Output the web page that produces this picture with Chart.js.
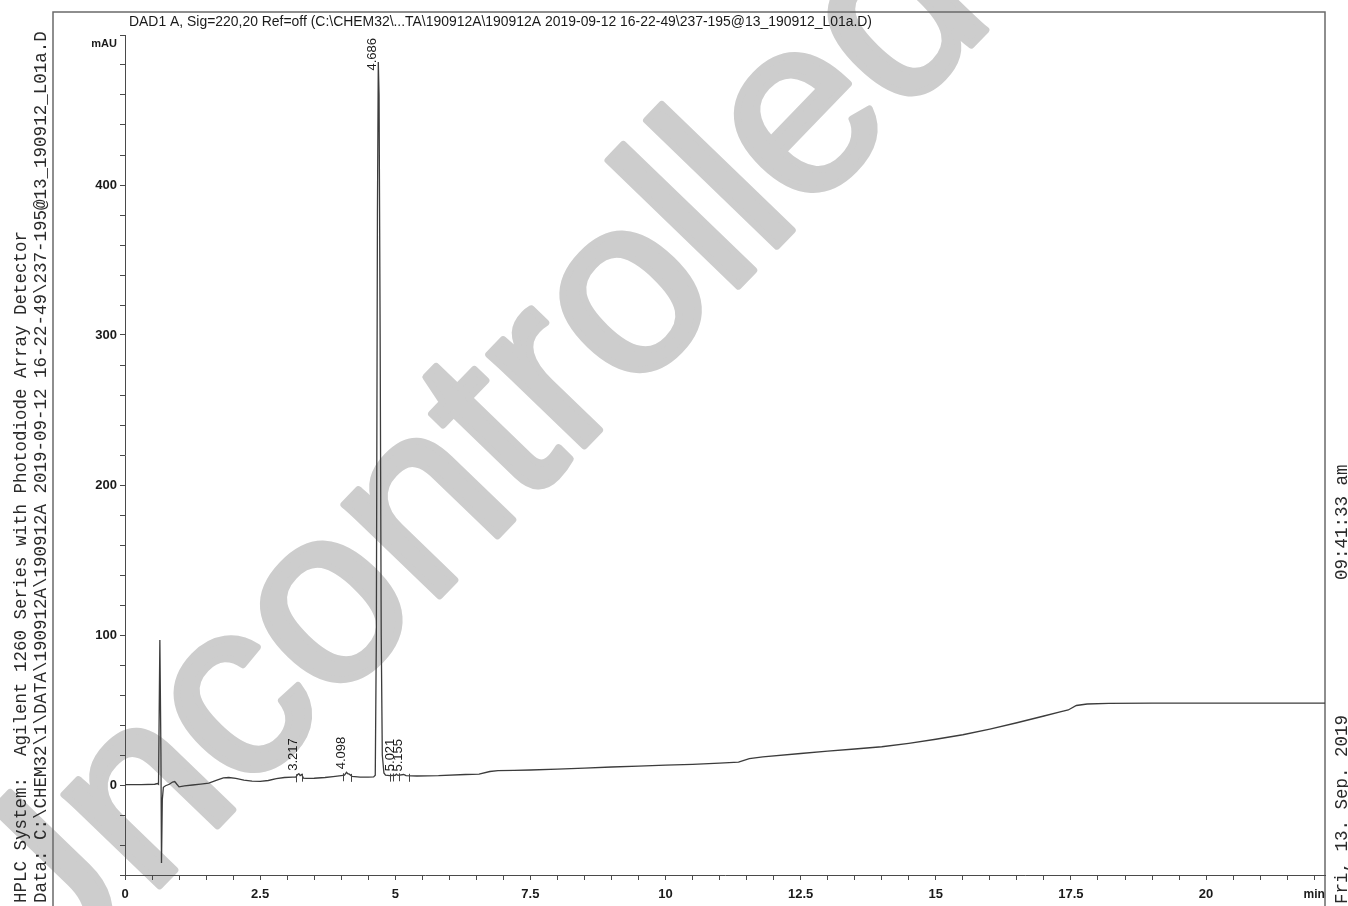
<!DOCTYPE html>
<html>
<head>
<meta charset="utf-8">
<title>DAD1 A, Sig=220,20 Ref=off</title>
<script src="https://cdn.jsdelivr.net/npm/chart.js@4/dist/chart.umd.min.js"></script>
<style>
  html, body { margin: 0; padding: 0; background: #ffffff; }
  canvas { display: block; }
</style>
</head>
<body>
<canvas id="chrom" width="1348" height="906"></canvas>
<script>
// Retention time (min) and detector signal (mAU) of the DAD1 A trace
const times = [
  0.00, 0.30, 0.55, 0.60, 0.62, 0.645, 0.665, 0.675, 0.69, 0.71, 0.75, 0.82, 0.88, 0.92, 0.96,
  1.00, 1.10, 1.25, 1.40, 1.55, 1.70, 1.82, 1.92, 2.05, 2.20, 2.35, 2.50, 2.65, 2.80, 2.95,
  3.10, 3.16, 3.19, 3.217, 3.24, 3.27, 3.30, 3.35, 3.50, 3.70, 3.85, 4.00, 4.06, 4.098, 4.12,
  4.15, 4.20, 4.35, 4.50, 4.60, 4.63, 4.65, 4.67, 4.686, 4.70, 4.72, 4.74, 4.76, 4.79,
  4.82, 4.90, 5.00, 5.021, 5.05, 5.155, 5.20, 5.40, 5.80, 6.30, 6.55, 6.75, 6.90, 7.20, 7.50,
  8.00, 8.50, 9.00, 9.50, 10.00, 10.50, 11.00, 11.35, 11.55, 11.80, 12.50, 13.00, 13.50, 14.00, 14.50,
  15.00, 15.50, 16.00, 16.50, 17.00, 17.30, 17.45, 17.60, 17.80, 18.20, 19.00, 20.00, 21.00, 22.20
];
const signal = [
  0.3, 0.3, 0.5, 1.0, 0.5, 96.7, 20.0, -52.0, -10.0, -1.5, -0.5, 0.5, 2.0, 2.3, 0.5,
  -1.2, -0.6, 0.0, 0.6, 1.3, 3.2, 4.7, 5.0, 4.4, 3.3, 2.6, 2.4, 3.0, 4.2, 5.0,
  5.3, 5.3, 6.8, 7.5, 6.3, 7.0, 4.6, 4.4, 4.5, 5.0, 5.6, 6.3, 6.6, 8.5, 7.5,
  7.2, 5.8, 5.3, 5.3, 5.4, 6.5, 100.0, 380.0, 482.0, 460.0, 300.0, 100.0, 20.0, 8.0,
  6.5, 6.2, 6.5, 7.2, 6.4, 7.0, 6.2, 6.0, 6.2, 7.0, 7.2, 9.0, 9.6, 9.7, 10.0,
  10.6, 11.3, 12.0, 12.6, 13.2, 13.8, 14.6, 15.3, 17.6, 18.8, 21.0, 22.6, 24.0, 25.5, 27.8,
  30.5, 33.5, 37.3, 41.5, 46.0, 48.7, 50.0, 53.0, 54.0, 54.4, 54.6, 54.6, 54.6, 54.6
];

// Integrated peaks: retention times printed above the trace
const peakTimes = [3.217, 4.098, 4.686, 5.021, 5.155];
const peakLabels = ['3.217', '4.098', '4.686', '5.021', '5.155'];
// Baseline start / end marks of the integration
const baselineMarks = [3.17, 3.28, 4.04, 4.19, 4.91, 4.96, 5.07, 5.26];

// Axis ranges and tick labelling
const xMin = 0, xMax = 22.2, xStep = 0.5, xLabelEvery = 2.5, xUnitAt = 22, xUnit = 'min';
const yMin = -60, yMax = 500, yStep = 20, yLabelEvery = 100, yUnit = 'mAU';

// Header and side texts
const signalTitle = 'DAD1 A, Sig=220,20 Ref=off (C:\\CHEM32\\...TA\\190912A\\190912A 2019-09-12 16-22-49\\237-195@13_190912_L01a.D)';
const systemLine = 'HPLC System:  Agilent 1260 Series with Photodiode Array Detector';
const dataLine = 'Data: C:\\CHEM32\\1\\DATA\\190912A\\190912A 2019-09-12 16-22-49\\237-195@13_190912_L01a.D';
const printDate = 'Fri, 13. Sep. 2019';
const printTime = '09:41:33 am';
const stampText = 'Uncontrolled';

const near = (v, step) => Math.abs(v / step - Math.round(v / step)) < 1e-6;

function signalAt(t) {
  for (let i = 1; i < times.length; i++) {
    if (t <= times[i]) {
      const f = (t - times[i - 1]) / (times[i] - times[i - 1]);
      return signal[i - 1] + f * (signal[i] - signal[i - 1]);
    }
  }
  return signal[signal.length - 1];
}

// Grey stamp, frame and side annotations drawn underneath the chart
const pagePlugin = {
  id: 'page',
  beforeDraw(chart) {
    const ctx = chart.ctx;
    ctx.save();
    ctx.fillStyle = '#ffffff';
    ctx.fillRect(0, 0, chart.width, chart.height);

    // stamp
    ctx.save();
    ctx.translate(22, 1028);
    ctx.rotate(-46 * Math.PI / 180);
    ctx.font = '250px "Liberation Sans", Arial, sans-serif';
    ctx.fillStyle = '#cdcdcd';
    ctx.strokeStyle = '#cdcdcd';
    ctx.lineWidth = 7;
    ctx.lineJoin = 'round';
    ctx.textBaseline = 'alphabetic';
    ctx.textAlign = 'left';
    ctx.fillText(stampText, 0, 0);
    ctx.strokeText(stampText, 0, 0);
    ctx.restore();

    // frame
    ctx.strokeStyle = '#6a6a6a';
    ctx.lineWidth = 1.5;
    ctx.beginPath();
    ctx.moveTo(53, chart.height);
    ctx.lineTo(53, 12);
    ctx.lineTo(1325, 12);
    ctx.lineTo(1325, chart.height);
    ctx.stroke();

    // signal description
    ctx.fillStyle = '#1a1a1a';
    ctx.font = '14px "Liberation Sans", Arial, sans-serif';
    ctx.textBaseline = 'alphabetic';
    const w = ctx.measureText(signalTitle).width;
    ctx.save();
    ctx.translate(129, 26);
    ctx.scale(743 / w, 1);
    ctx.fillText(signalTitle, 0, 0);
    ctx.restore();

    // side annotations, reading bottom to top
    ctx.font = '17.5px "Liberation Mono", "DejaVu Sans Mono", monospace';
    ctx.fillStyle = '#2a2a2a';
    const vertical = (text, x, y) => {
      ctx.save();
      ctx.translate(x, y);
      ctx.rotate(-Math.PI / 2);
      ctx.fillText(text, 0, 0);
      ctx.restore();
    };
    vertical(systemLine, 26, 903);
    vertical(dataLine, 46, 903);
    vertical(printDate, 1347, 904);
    vertical(printTime, 1347, 580);
    ctx.restore();
  }
};

// Retention time labels and integration baseline marks
const peakPlugin = {
  id: 'peaks',
  afterDatasetsDraw(chart) {
    const ctx = chart.ctx;
    const xs = chart.scales.x, ys = chart.scales.y;
    const area = chart.chartArea;
    ctx.save();
    ctx.strokeStyle = '#444';
    ctx.lineWidth = 1;
    baselineMarks.forEach(t => {
      const x = Math.round(xs.getPixelForValue(t)) + 0.5;
      const y = ys.getPixelForValue(signalAt(t));
      ctx.beginPath();
      ctx.moveTo(x, y - 2);
      ctx.lineTo(x, y + 6);
      ctx.stroke();
    });
    ctx.font = '13px "Liberation Sans", Arial, sans-serif';
    ctx.fillStyle = '#1a1a1a';
    ctx.textBaseline = 'alphabetic';
    ctx.textAlign = 'left';
    peakTimes.forEach((t, i) => {
      const label = peakLabels[i];
      const w = ctx.measureText(label).width;
      const x = xs.getPixelForValue(t) - 2;
      const apex = ys.getPixelForValue(signalAt(t)) - 3;
      const y = Math.max(apex, area.top + w + 3);
      ctx.save();
      ctx.translate(x, y);
      ctx.rotate(-Math.PI / 2);
      ctx.fillText(label, 0, 0);
      ctx.restore();
    });
    ctx.restore();
  }
};

const tickFont = { family: '"Liberation Sans", Arial, sans-serif', size: 13, weight: 'bold' };

new Chart(document.getElementById('chrom'), {
  type: 'scatter',
  data: {
    datasets: [{
      data: times.map((t, i) => ({ x: t, y: signal[i] })),
      showLine: true,
      borderColor: '#3c3c3c',
      borderWidth: 1.3,
      pointRadius: 0,
      tension: 0,
      fill: false
    }]
  },
  options: {
    responsive: false,
    animation: false,
    devicePixelRatio: 1,
    layout: { padding: { left: 0, top: 35, right: 23, bottom: 0 } },
    plugins: { legend: { display: false }, tooltip: { enabled: false } },
    scales: {
      x: {
        type: 'linear',
        position: 'bottom',
        min: xMin,
        max: xMax,
        afterFit: s => { s.height = 31; },
        border: { color: '#4a4a4a', width: 1 },
        grid: { drawOnChartArea: false, drawTicks: true, tickLength: 5, color: '#4a4a4a' },
        ticks: {
          stepSize: xStep,
          includeBounds: false,
          autoSkip: false,
          maxRotation: 0,
          padding: 7,
          color: '#1a1a1a',
          font: ctx => (ctx.tick && Math.abs(ctx.tick.value - xUnitAt) < 1e-6)
            ? { family: tickFont.family, size: 12, weight: 'bold' } : tickFont,
          callback: v => {
            if (Math.abs(v - xUnitAt) < 1e-6) return xUnit;
            return near(v, xLabelEvery) ? String(Math.round(v * 10) / 10) : '';
          }
        }
      },
      y: {
        type: 'linear',
        min: yMin,
        max: yMax,
        afterFit: s => { s.width = 125; },
        border: { color: '#4a4a4a', width: 1 },
        grid: { drawOnChartArea: false, drawTicks: true, tickLength: 5, color: '#4a4a4a' },
        ticks: {
          stepSize: yStep,
          autoSkip: false,
          padding: 3,
          color: '#1a1a1a',
          font: ctx => (ctx.tick && ctx.tick.value === yMax)
            ? { family: tickFont.family, size: 11, weight: 'bold', lineHeight: 1.6 } : tickFont,
          callback: v => {
            if (v === yMax) return ['', yUnit];
            return near(v, yLabelEvery) ? String(v) : '';
          }
        }
      }
    }
  },
  plugins: [pagePlugin, peakPlugin]
});
</script>
</body>
</html>
